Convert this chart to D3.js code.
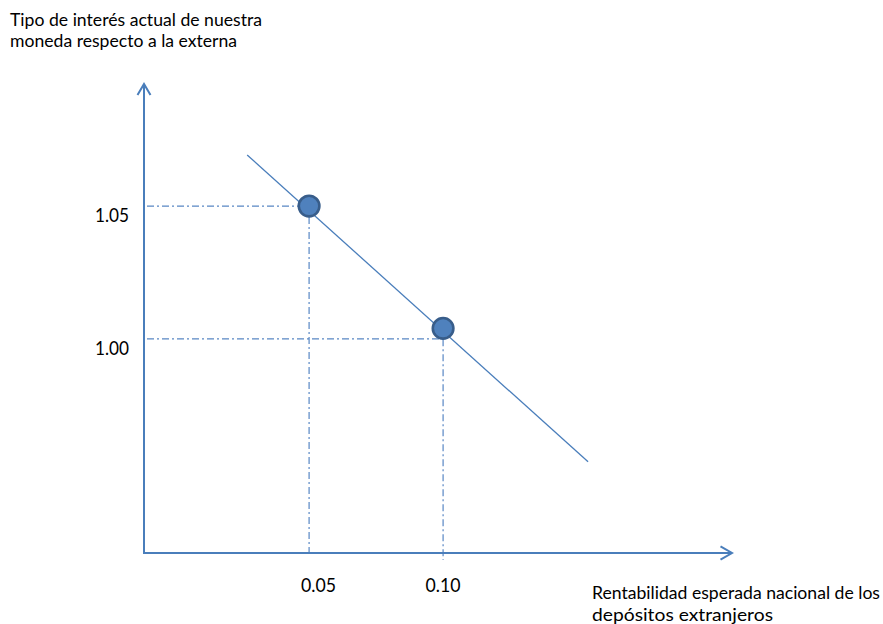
<!DOCTYPE html>
<html>
<head>
<meta charset="utf-8">
<script src="https://cdn.jsdelivr.net/npm/d3@7"></script>
<style>
  html, body { margin: 0; padding: 0; background: #ffffff; }
  svg { display: block; }
</style>
</head>
<body>
<div id="chart"></div>
<script>
// ---- data ----
const axisXDomain = [-0.0116, 0.2078];   // visible extent of the horizontal axis
const axisYDomain = [0.9195, 1.0959];    // visible extent of the vertical axis
const xTickValues = [0.05, 0.10];
const xTickLabels = ["0.05", "0.10"];
const yTickValues = [1.05, 1.00];
const yTickLabels = ["1.05", "1.00"];
const pointX = [0.05, 0.10];
const pointY = [1.05, 1.004];
const lineX = [0.0269, 0.1541];
const lineY = [1.0692, 0.9538];
const yTitleLines = ["Tipo de interés actual de nuestra", "moneda respecto a la externa"];
const xTitleLines = ["Rentabilidad esperada nacional de los", "depósitos extranjeros"];

// ---- layout ----
const W = 883, H = 624;
const axisColor = "#4a7ebb";
const font = "Lato, 'Open Sans', sans-serif";
const xTickOffsets = [9.5, 0];

const svg = d3.select("#chart").append("svg").attr("width", W).attr("height", H);

const x = d3.scaleLinear().domain(axisXDomain).range([144, 732]);
const y = d3.scaleLinear().domain(axisYDomain).range([553, 84]);

const x0 = x(axisXDomain[0]), y0 = y(axisYDomain[0]);

// guide lines (dash-dot)
const dash = "7,3,2,3";
const guide = svg.append("g").attr("stroke", "#5887c4").attr("stroke-width", 1.2)
  .attr("stroke-dasharray", dash).attr("fill", "none");
guide.append("line").attr("x1", x0 + 3).attr("x2", x(pointX[0])).attr("y1", y(yTickValues[0])).attr("y2", y(yTickValues[0]));
guide.append("line").attr("x1", x0 + 3).attr("x2", x(pointX[1])).attr("y1", y(yTickValues[1])).attr("y2", y(yTickValues[1]));
guide.append("line").attr("x1", x(xTickValues[0])).attr("x2", x(xTickValues[0])).attr("y1", y(pointY[0]) + 11).attr("y2", y0);
guide.append("line").attr("x1", x(xTickValues[1])).attr("x2", x(xTickValues[1])).attr("y1", y(pointY[1]) + 11).attr("y2", y0 + 7);

// axes
const ax = svg.append("g").attr("stroke", axisColor).attr("stroke-width", 2).attr("fill", "none")
  .attr("stroke-linecap", "butt");
ax.append("path").attr("d", d3.line()([[x0, y0], [x(axisXDomain[0]), y(axisYDomain[1])]]));
ax.append("path").attr("d", d3.line()([[x0 - 1, y0], [x(axisXDomain[1]), y0]]));
const yt = [x0, y(axisYDomain[1])];
ax.append("path").attr("d", d3.line()([[yt[0] - 6.5, yt[1] + 11], yt, [yt[0] + 6.5, yt[1] + 11]]));
const xt = [x(axisXDomain[1]), y0];
ax.append("path").attr("d", d3.line()([[xt[0] - 11.5, xt[1] - 6.7], xt, [xt[0] - 11.5, xt[1] + 6.7]]));

// demand line
svg.append("path")
  .attr("d", d3.line().x(d => x(d[0])).y(d => y(d[1]))(lineX.map((v, i) => [v, lineY[i]])))
  .attr("stroke", axisColor).attr("stroke-width", 1.3).attr("fill", "none");

// points
svg.selectAll("circle.pt").data(pointX.map((v, i) => [v, pointY[i]])).enter()
  .append("circle").attr("class", "pt")
  .attr("cx", d => x(d[0])).attr("cy", d => y(d[1])).attr("r", 10.3)
  .attr("fill", "#4f81bd").attr("stroke", "#385d8a").attr("stroke-width", 2.6);

// tick labels
svg.selectAll("text.yt").data(yTickValues).enter().append("text").attr("class", "yt")
  .attr("x", 95).attr("y", d => y(d) + 16)
  .attr("font-family", font).attr("font-size", 19)
  .attr("textLength", 34).attr("lengthAdjust", "spacingAndGlyphs")
  .attr("fill", "#000").text((d, i) => yTickLabels[i]);
svg.selectAll("text.xt").data(xTickValues).enter().append("text").attr("class", "xt")
  .attr("x", (d, i) => x(d) + xTickOffsets[i] - 17.5).attr("y", 592)
  .attr("font-family", font).attr("font-size", 19)
  .attr("textLength", 35).attr("lengthAdjust", "spacingAndGlyphs")
  .attr("fill", "#000").text((d, i) => xTickLabels[i]);

// axis titles
const yTitleWidths = [252, 227];
svg.selectAll("text.ytitle").data(yTitleLines).enter().append("text").attr("class", "ytitle")
  .attr("x", 10).attr("y", (d, i) => 26 + i * 21)
  .attr("font-family", font).attr("font-size", 17.5).attr("fill", "#000")
  .attr("textLength", (d, i) => yTitleWidths[i]).attr("lengthAdjust", "spacingAndGlyphs")
  .text(d => d);
const xTitleWidths = [288, 181];
svg.selectAll("text.xtitle").data(xTitleLines).enter().append("text").attr("class", "xtitle")
  .attr("x", 592).attr("y", (d, i) => 599 + i * 21.5)
  .attr("font-family", font).attr("font-size", 17.5).attr("fill", "#000")
  .attr("textLength", (d, i) => xTitleWidths[i]).attr("lengthAdjust", "spacingAndGlyphs")
  .text(d => d);
</script>
</body>
</html>
